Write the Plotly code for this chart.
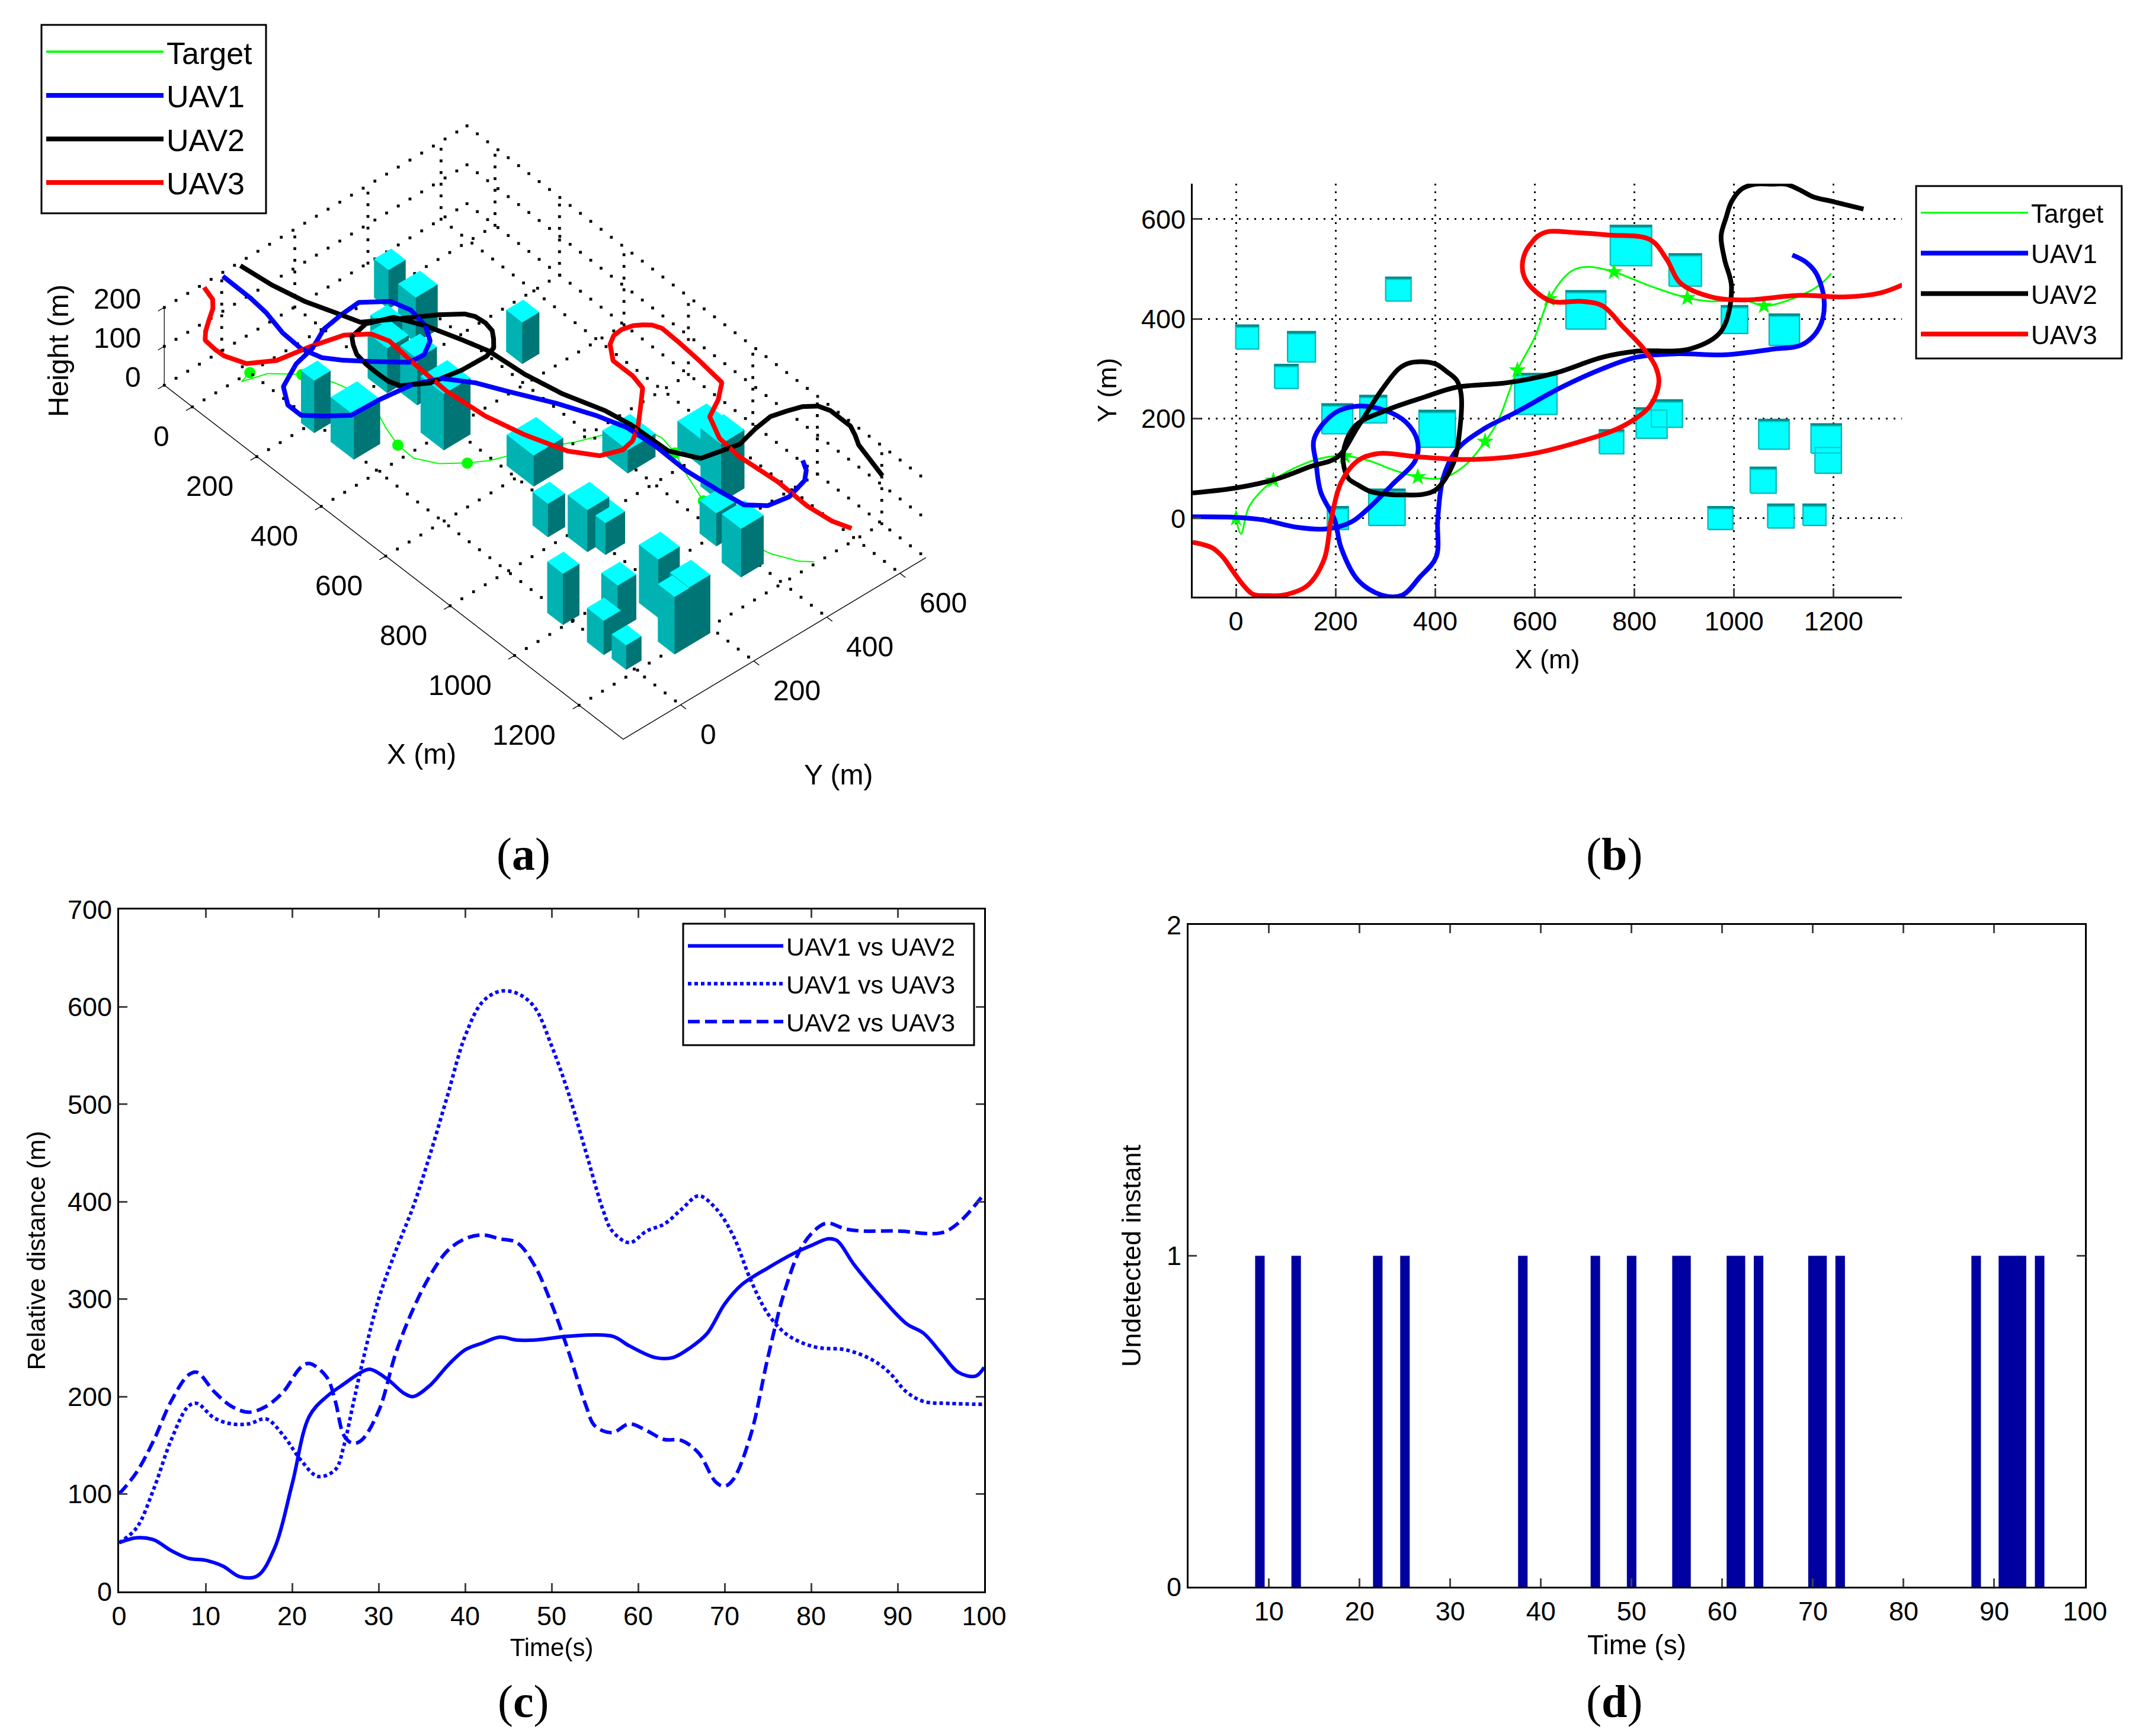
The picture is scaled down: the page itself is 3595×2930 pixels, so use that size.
import plotly.graph_objects as go

W, H = 3595, 2930

# ---------- data: trajectories (X, Y in metres) ----------
target_x = [0, 10, 27, 75, 136, 184, 218, 266, 313, 365, 416, 463, 500, 525, 565, 599, 629, 674, 708, 759, 831, 906, 954, 1022, 1060, 1117, 1172, 1195]
target_y = [0, -31, 25, 76, 109, 123, 125, 116, 98, 83, 81, 109, 154, 193, 297, 361, 440, 496, 504, 494, 466, 442, 435, 437, 426, 440, 468, 491]
marker_x = [0, 75, 218, 365, 500, 565, 629, 759, 906, 1060]
marker_y = [0, 76, 125, 83, 154, 297, 440, 494, 442, 426]

uav1_x = [-87, 0, 54, 123, 184, 232, 266, 313, 361, 364, 341, 300, 245, 198, 157, 161, 170, 198, 211, 245, 293, 334, 368, 402, 405, 416, 443, 497, 559, 654, 736, 804, 886, 981, 1076, 1138, 1172, 1181, 1165, 1144, 1117]
uav1_y = [3, 2, -3, -18, -21, -7, 20, 67, 118, 156, 193, 216, 225, 211, 160, 109, 53, -3, -59, -124, -154, -154, -119, -77, -3, 81, 137, 179, 211, 263, 300, 323, 330, 328, 339, 349, 384, 435, 491, 514, 528]

uav2_x = [-87, 0, 82, 150, 204, 245, 293, 327, 347, 375, 402, 422, 443, 452, 450, 436, 402, 375, 341, 307, 272, 245, 225, 215, 238, 300, 381, 443, 545, 640, 736, 804, 913, 974, 995, 981, 974, 984, 995, 1015, 1042, 1076, 1104, 1131, 1158, 1199, 1260]
uav2_y = [51, 61, 79, 104, 123, 184, 258, 300, 311, 314, 309, 295, 277, 249, 184, 109, 58, 48, 47, 48, 53, 67, 81, 128, 184, 216, 244, 263, 272, 291, 323, 335, 340, 375, 463, 519, 566, 603, 635, 660, 670, 670, 670, 659, 645, 635, 620]

uav3_x = [-87, -48, -27, -7, 14, 34, 68, 95, 143, 177, 191, 211, 245, 286, 368, 477, 586, 681, 777, 831, 849, 842, 817, 777, 736, 695, 634, 593, 578, 575, 582, 593, 606, 627, 681, 749, 831, 865, 892, 954, 1022, 1131, 1226, 1294, 1338]
uav3_y = [-48, -59, -77, -105, -133, -152, -155, -154, -135, -82, -3, 72, 116, 130, 123, 118, 128, 151, 185, 225, 272, 305, 342, 384, 426, 435, 435, 463, 486, 510, 536, 552, 566, 575, 573, 568, 559, 519, 472, 444, 438, 447, 444, 452, 468]

uav_height = 190

# buildings: footprints and heights (m)
bld_x0 = [0, 104, 78, 301, 173, 249, 368, 267, 184, 560, 663, 752, 870, 975, 1071, 730, 804, 834, 1050, 1155, 1163, 1033, 948, 1068, 1139]
bld_x1 = [45, 159, 124, 351, 234, 302, 440, 339, 225, 644, 742, 834, 934, 1027, 1131, 778, 865, 896, 1110, 1215, 1215, 1084, 997, 1120, 1184]
bld_y0 = [340, 314, 261, 436, 170, 192, 143, -14, -22, 209, 380, 507, 466, 371, 347, 130, 161, 183, 139, 131, 91, 51, -22, -19, -14]
bld_y1 = [387, 374, 308, 483, 229, 246, 216, 58, 23, 290, 456, 587, 530, 426, 409, 177, 221, 237, 198, 189, 146, 102, 23, 28, 28]
bld_h = [100, 117, 50, 107, 116, 120, 145, 115, 135, 80, 60, 70, 150, 85, 125, 86, 108, 82, 150, 150, 148, 116, 132, 88, 63]

# panel (c)
t1 = [0, 2, 4, 6, 8, 10, 12, 14, 16, 18, 20, 22, 24, 26, 28, 29, 31, 33, 34, 36, 38, 40, 42, 44, 46, 48, 50, 52, 57, 59, 62, 64, 66, 68, 70, 72, 75, 78, 80, 82, 83, 85, 88, 91, 93, 95, 97, 99, 100]
d12 = [50, 55, 53, 42, 34, 32, 26, 15, 16, 45, 110, 180, 200, 213, 225, 228, 218, 203, 200, 212, 232, 248, 255, 261, 258, 258, 260, 262, 262, 252, 240, 240, 250, 265, 295, 315, 332, 347, 355, 362, 360, 335, 303, 275, 265, 245, 225, 221, 230]
t2 = [0, 2, 4, 6, 8, 9, 11, 13, 15, 17, 19, 21, 23, 25, 26, 27, 28, 30, 32, 34, 36, 38, 40, 42, 44, 46, 48, 50, 52, 54, 56, 57, 59, 61, 63, 65, 67, 69, 71, 73, 75, 77, 79, 81, 84, 87, 89, 91, 93, 96, 100]
d13 = [50, 65, 105, 155, 190, 193, 178, 172, 172, 177, 160, 135, 118, 125, 150, 190, 230, 300, 350, 395, 450, 510, 570, 605, 616, 614, 600, 560, 510, 450, 390, 370, 358, 370, 377, 392, 406, 393, 365, 320, 285, 265, 255, 250, 248, 238, 225, 205, 195, 193, 192]
t3 = [0, 2, 4, 6, 8, 9, 11, 13, 15, 17, 19, 21, 22, 24, 25, 26, 27, 28, 30, 32, 34, 36, 38, 40, 42, 44, 46, 48, 50, 52, 54, 55, 57, 59, 61, 63, 65, 67, 69, 70, 71, 73, 75, 77, 79, 81, 82, 84, 86, 90, 95, 97, 100]
d23 = [100, 122, 155, 195, 222, 225, 205, 190, 184, 190, 205, 230, 234, 220, 195, 160, 152, 155, 185, 245, 290, 325, 350, 362, 366, 362, 358, 335, 295, 245, 190, 170, 163, 172, 165, 156, 155, 142, 112, 108, 115, 160, 240, 310, 355, 375, 378, 372, 370, 370, 368, 378, 408]

# panel (d)
undetected_t = [9, 13, 22, 25, 38, 46, 50, 55, 56, 61, 62, 64, 70, 71, 73, 88, 91, 92, 93, 95]
undetected_v = [1] * len(undetected_t)

ticks_xy_x = [0, 200, 400, 600, 800, 1000, 1200]
ticks_xy_y = [0, 200, 400, 600]
ticks_z = [0, 100, 200]
x_range = [-87, 1337]
y_range = [-157, 671]
z_range = [0, 200]

FONT = "Liberation Sans"
GREEN, BLUE, BLACK, RED = "#00FF00", "#0000FF", "#000000", "#FF0000"
CYAN, TEAL_L, TEAL_D, TEAL_B = "#00FFFF", "#00B2B2", "#007575", "#008C8C"
BAR = "#0000A0"


def dx(px):
    return px / W


def dy(py):
    return 1 - py / H


def steps(lo, hi, step):
    n = int((hi - lo) / step)
    return [lo + i * step for i in range(n + 1)]


fig = go.Figure()

# ---------- panel (a): 3-D ----------
vx, vy, vz, fi, fj, fk, fc = [], [], [], [], [], [], []
for x0, x1, y0, y1, h in zip(bld_x0, bld_x1, bld_y0, bld_y1, bld_h):
    n = len(vx)
    vx += [x0, x1, x1, x0, x0, x1, x1, x0]
    vy += [y0, y0, y1, y1, y0, y0, y1, y1]
    vz += [0, 0, 0, 0, h, h, h, h]
    quads = [((4, 5, 6), (4, 6, 7), CYAN), ((0, 1, 5), (0, 5, 4), TEAL_L), ((1, 2, 6), (1, 6, 5), TEAL_D)]
    for a, b, col in quads:
        for tri in (a, b):
            fi.append(n + tri[0])
            fj.append(n + tri[1])
            fk.append(n + tri[2])
            fc.append(col)
fig.add_trace(go.Mesh3d(x=vx, y=vy, z=vz, i=fi, j=fj, k=fk, facecolor=fc, flatshading=True,
                        lighting=dict(ambient=1, diffuse=0, specular=0, fresnel=0, roughness=1),
                        hoverinfo="skip", showscale=False, scene="scene"))

# dotted grid (floor and two back walls), placed from the tick lists
gx, gy, gz = [], [], []
along_x = steps(x_range[0], x_range[1], 32)
along_y = steps(y_range[0], y_range[1], 32)
along_z = steps(z_range[0], z_range[1], 30)
for v in ticks_xy_x:
    gx += [v] * len(along_y) + [v] * len(along_z)
    gy += along_y + [y_range[1]] * len(along_z)
    gz += [0] * len(along_y) + along_z
for v in ticks_xy_y:
    gx += along_x + [x_range[0]] * len(along_z)
    gy += [v] * len(along_x) + [v] * len(along_z)
    gz += [0] * len(along_x) + along_z
for v in ticks_z:
    gx += along_x + [x_range[0]] * len(along_y)
    gy += [y_range[1]] * len(along_x) + along_y
    gz += [v] * (len(along_x) + len(along_y))
fig.add_trace(go.Scatter3d(x=gx, y=gy, z=gz, mode="markers", marker=dict(color="black", size=2.5, symbol="square"),
                           showlegend=False, hoverinfo="skip", scene="scene"))

fig.add_trace(go.Scatter3d(x=target_x, y=target_y, z=[0] * len(target_x), mode="lines", name="Target",
                           line=dict(color=GREEN, width=4), legend="legend", legendgroup="a0", scene="scene"))
fig.add_trace(go.Scatter3d(x=marker_x, y=marker_y, z=[0] * len(marker_x), mode="markers",
                           marker=dict(color=GREEN, size=11), showlegend=False, scene="scene"))
for name, xs, ys, col in [("UAV1", uav1_x, uav1_y, BLUE), ("UAV2", uav2_x, uav2_y, BLACK), ("UAV3", uav3_x, uav3_y, RED)]:
    fig.add_trace(go.Scatter3d(x=xs, y=ys, z=[uav_height] * len(xs), mode="lines",
                               line=dict(color=col, width=16), showlegend=False, scene="scene"))
    fig.add_trace(go.Scatter3d(x=[None], y=[None], z=[None], mode="lines", name=name,
                               line=dict(color=col, width=8), legend="legend", legendgroup="a" + name, scene="scene"))

# ---------- panel (b): plan view ----------
def rect_path(x0s, x1s, y0s, y1s):
    px, py = [], []
    for x0, x1, y0, y1 in zip(x0s, x1s, y0s, y1s):
        px += [x0, x1, x1, x0, x0, None]
        py += [y0, y0, y1, y1, y0, None]
    return px, py


bx, by = rect_path(bld_x0, bld_x1, bld_y0, bld_y1)
fig.add_trace(go.Scatter(x=bx, y=by, fill="toself", fillcolor=TEAL_B, mode="lines", line=dict(color=TEAL_B, width=3),
                         showlegend=False, hoverinfo="skip", xaxis="x", yaxis="y"))
bx, by = rect_path(bld_x0, bld_x1, bld_y0, [v - 4 for v in bld_y1])
fig.add_trace(go.Scatter(x=bx, y=by, fill="toself", fillcolor=CYAN, mode="lines", line=dict(color="#00C8C8", width=2),
                         showlegend=False, hoverinfo="skip", xaxis="x", yaxis="y"))
fig.add_trace(go.Scatter(x=target_x, y=target_y, mode="lines", name="Target", line=dict(color=GREEN, width=3, shape="spline"),
                         xaxis="x", yaxis="y", legend="legend2", legendgroup="b0"))
fig.add_trace(go.Scatter(x=marker_x, y=marker_y, mode="markers", marker=dict(color=GREEN, size=22, symbol="star"),
                         showlegend=False, xaxis="x", yaxis="y"))
for name, xs, ys, col in [("UAV1", uav1_x, uav1_y, BLUE), ("UAV2", uav2_x, uav2_y, BLACK), ("UAV3", uav3_x, uav3_y, RED)]:
    fig.add_trace(go.Scatter(x=xs, y=ys, mode="lines", name=name, line=dict(color=col, width=8, shape="spline"), xaxis="x", yaxis="y",
                             legend="legend2", legendgroup="b" + name))

# ---------- panel (c) ----------
for name, xs, ys, dash, g in [("UAV1 vs UAV2", t1, d12, "solid", "c1"), ("UAV1 vs UAV3", t2, d13, "6px,5px", "c2"),
                              ("UAV2 vs UAV3", t3, d23, "20px,9px", "c3")]:
    fig.add_trace(go.Scatter(x=xs, y=ys, mode="lines", name=name, line=dict(color=BLUE, width=6, dash=dash, shape="spline"),
                             xaxis="x2", yaxis="y2", legend="legend3", legendgroup=g))

# ---------- panel (d) ----------
fig.add_trace(go.Bar(x=undetected_t, y=undetected_v, width=1.05, marker=dict(color=BAR, line=dict(width=0)),
                     showlegend=False, xaxis="x3", yaxis="y3"))

tick_font = dict(family=FONT, size=45, color="black")
title_font = dict(family=FONT, size=45, color="black")
axis_common = dict(showline=True, linecolor="black", linewidth=3, ticks="inside", tickwidth=3, ticklen=14,
                   tickfont=tick_font, zeroline=False, showgrid=False, automargin=False)


def leg(xl, yt, fs, gap, iw):
    return dict(x=dx(xl), y=dy(yt), xanchor="left", yanchor="top", xref="paper", yref="paper",
                font=dict(family=FONT, size=fs, color="black"), bgcolor="rgba(0,0,0,0)", borderwidth=0,
                itemwidth=iw, traceorder="grouped", tracegroupgap=gap,
                itemclick=False, itemdoubleclick=False)


def frame(x0, x1, y0, y1):
    return dict(type="rect", xref="paper", yref="paper", x0=dx(x0), x1=dx(x1), y0=dy(y1), y1=dy(y0),
                line=dict(color="black", width=3), fillcolor="white", layer="above")


scene_axis = dict(showbackground=False, showgrid=False, zeroline=False, showline=True, linecolor="black", linewidth=3,
                  ticks="outside", ticklen=14, tickwidth=3, tickcolor="black", showspikes=False,
                  showticklabels=False, title=dict(text=""))

scene_font = dict(family=FONT, size=48, color="black")
scene_annotations = [dict(x=v, y=y_range[0], z=0, text=str(v), showarrow=False, xanchor="right", yanchor="middle",
                          xshift=-37, yshift=-50, font=scene_font) for v in ticks_xy_x]
scene_annotations += [dict(x=x_range[1], y=v, z=0, text=str(v), showarrow=False, xanchor="left", yanchor="middle",
                           xshift=31, yshift=-50, font=scene_font) for v in ticks_xy_y]
scene_annotations += [dict(x=x_range[0], y=y_range[0], z=v, text=str(v), showarrow=False, xanchor="right", yanchor="middle",
                           xshift=-37, yshift=14, font=scene_font) for v in ticks_z]

label_a = [("X (m)", 711, 1272, 0), ("Y (m)", 1415, 1307, 0), ("Height (m)", 99, 592, -90)]
label_sub = [("(<b>a</b>)", 883, 1441), ("(<b>b</b>)", 2724, 1441), ("(<b>c</b>)", 883, 2871), ("(<b>d</b>)", 2724, 2871)]
annotations = [dict(text=t, x=dx(px), y=dy(py), xref="paper", yref="paper", showarrow=False, textangle=a,
                    xanchor="center", yanchor="middle",
                    font=dict(family=FONT, size=48, color="black")) for t, px, py, a in label_a]
annotations += [dict(text=t, x=dx(px), y=dy(py), xref="paper", yref="paper", showarrow=False,
                     xanchor="center", yanchor="middle",
                     font=dict(family="Liberation Serif", size=78, color="black")) for t, px, py in label_sub]

fig.update_layout(
    width=W, height=H, margin=dict(l=0, r=0, t=0, b=0), paper_bgcolor="white", plot_bgcolor="white",
    barmode="overlay", annotations=annotations,
    shapes=[frame(70, 449, 42, 360), frame(3234, 3581, 314, 605), frame(1153, 1644, 1559, 1764)],
    scene=dict(
        domain=dict(x=[dx(120), dx(1720)], y=[dy(1430), dy(30)]),
        aspectmode="manual", aspectratio=dict(x=1.673, y=0.973, z=0.256),
        camera=dict(projection=dict(type="orthographic"), eye=dict(x=0.981, y=-0.865, z=1.214),
                    up=dict(x=0, y=0, z=1), center=dict(x=0, y=0, z=0)),
        xaxis=dict(range=x_range, tickvals=ticks_xy_x, **scene_axis),
        yaxis=dict(range=y_range, tickvals=ticks_xy_y, **scene_axis),
        zaxis=dict(range=z_range, tickvals=ticks_z, **scene_axis),
        annotations=scene_annotations,
    ),
    xaxis=dict(domain=[dx(2013), dx(3210)], range=x_range, tickvals=ticks_xy_x, anchor="y",
               title=dict(text="X (m)", font=title_font, standoff=24),
               **{**axis_common, "showgrid": True, "gridcolor": "black", "gridwidth": 3, "griddash": "3px,10px"}),
    yaxis=dict(domain=[dy(1007), dy(310)], range=y_range, tickvals=ticks_xy_y, anchor="x",
               title=dict(text="Y (m)", font=title_font, standoff=28),
               **{**axis_common, "showgrid": True, "gridcolor": "black", "gridwidth": 3, "griddash": "3px,10px"}),
    xaxis2=dict(domain=[dx(201), dx(1661)], range=[0, 100], tickvals=list(range(0, 101, 10)), anchor="y2", mirror="ticks",
                title=dict(text="Time(s)", font=dict(family=FONT, size=42, color="black"), standoff=14), **axis_common),
    yaxis2=dict(domain=[dy(2686), dy(1535)], range=[0, 700], tickvals=list(range(0, 701, 100)), anchor="x2", mirror="ticks",
                title=dict(text="Relative distance (m)", font=dict(family=FONT, size=43, color="black"), standoff=24), **axis_common),
    xaxis3=dict(domain=[dx(2006), dx(3519)], range=[1.13, 100], tickvals=list(range(10, 101, 10)), anchor="y3", mirror="ticks",
                title=dict(text="Time (s)", font=dict(family=FONT, size=46, color="black"), standoff=16), **axis_common),
    yaxis3=dict(domain=[dy(2678), dy(1561)], range=[0, 2], tickvals=[0, 1, 2], anchor="x3", mirror="ticks",
                title=dict(text="Undetected instant", font=dict(family=FONT, size=45, color="black"), standoff=30), **axis_common),
    legend=leg(73, 47, 52, 3, 198),
    legend2=leg(3237, 324, 44, 8, 181),
    legend3=leg(1156, 1562, 43, 5, 161),
)

fig.write_html("out.html", config={"displayModeBar": False}, post_script="document.body.style.margin='0';")
